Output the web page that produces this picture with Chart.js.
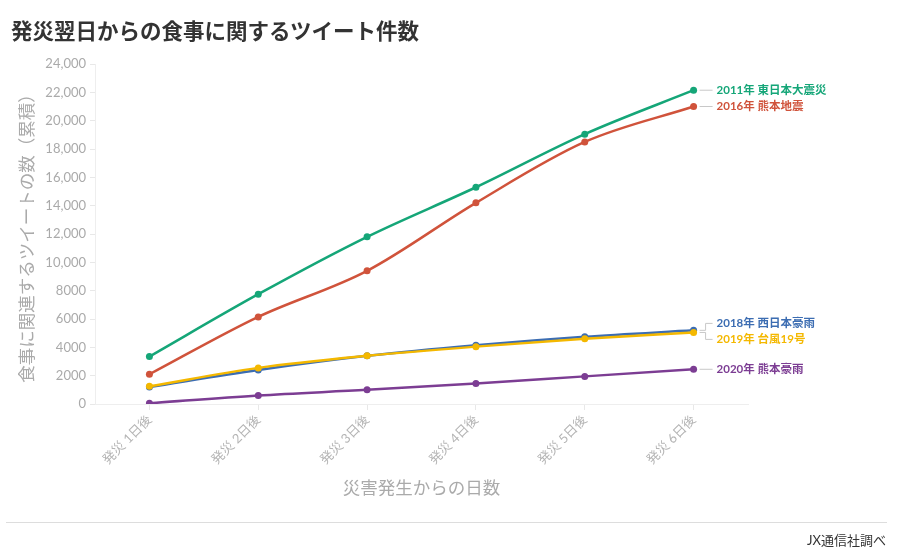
<!DOCTYPE html>
<html lang="ja">
<head>
<meta charset="utf-8">
<title>発災翌日からの食事に関するツイート件数</title>
<script src="https://cdn.jsdelivr.net/npm/chart.js@4.4.1/dist/chart.umd.min.js"></script>
<style>
  html, body { margin: 0; padding: 0; background: #fff; }
  body { width: 897px; height: 550px; position: relative; overflow: hidden;
         font-family: Lato, "Noto Sans CJK JP", sans-serif; }
  #title { position: absolute; left: 11px; top: 14px; font-size: 21.5px; font-weight: bold; color: #333; }
  #rule { position: absolute; left: 6px; right: 10px; top: 522px; border-top: 1px solid #ddd; }
  #source { position: absolute; right: 11px; top: 530px; font-size: 13px; color: #333; }
  canvas { position: absolute; left: 0; top: 0; }
</style>
</head>
<body>
<canvas id="chart" width="897" height="550"></canvas>
<div id="title">発災翌日からの食事に関するツイート件数</div>
<div id="rule"></div>
<div id="source">JX通信社調べ</div>
<script>
const days = ['発災 1日後', '発災 2日後', '発災 3日後', '発災 4日後', '発災 5日後', '発災 6日後'];
const yTicks = [0, 2000, 4000, 6000, 8000, 10000, 12000, 14000, 16000, 18000, 20000, 22000, 24000];

const seriesNames = ['2011年 東日本大震災', '2016年 熊本地震', '2018年 西日本豪雨', '2019年 台風19号', '2020年 熊本豪雨'];
const tohoku2011 = [3350, 7750, 11800, 15300, 19050, 22150];
const kumamoto2016 = [2100, 6150, 9400, 14200, 18500, 21000];
const westJapan2018 = [1200, 2400, 3400, 4150, 4750, 5200];
const typhoon2019 = [1250, 2550, 3400, 4050, 4600, 5050];
const kumamotoRain2020 = [50, 600, 1000, 1450, 1950, 2450];

const colors = ['#15a678', '#d0533b', '#3c6db2', '#f4b800', '#7c3d93'];
const values = [tohoku2011, kumamoto2016, westJapan2018, typhoon2019, kumamotoRain2020];
const drawOrder = [1, 1, 2, 0, 1];

const fontFamily = 'Lato, "Noto Sans CJK JP", sans-serif';

// labels at the end of each line, with leader lines
const endLabels = {
    id: 'endLabels',
    afterDatasetsDraw(chart) {
        const ctx = chart.ctx;
        const items = chart.data.datasets.map((ds, i) => {
            const pts = chart.getDatasetMeta(i).data;
            const p = pts[pts.length - 1];
            return { text: ds.label, color: ds.borderColor, x: p.x, py: p.y, y: p.y };
        }).sort((a, b) => a.py - b.py);

        // push apart labels that are too close
        const gap = 16;
        for (let i = 1; i < items.length; i++) {
            const a = items[i - 1], b = items[i];
            if (b.y - a.y < gap) {
                const mid = (a.py + b.py) / 2;
                a.y = mid - gap / 2;
                b.y = mid + gap / 2;
                a.moved = b.moved = true;
            }
        }

        ctx.save();
        ctx.font = 'bold 11.5px ' + fontFamily;
        ctx.textBaseline = 'middle';
        ctx.lineWidth = 1;
        ctx.strokeStyle = '#c8c8c8';
        items.forEach(it => {
            const x0 = it.x + 6;
            ctx.beginPath();
            if (it.moved) {
                ctx.moveTo(x0, it.py);
                ctx.lineTo(x0 + 6, it.py);
                ctx.moveTo(x0 + 6, it.py);
                ctx.lineTo(x0 + 6, it.y);
                ctx.lineTo(x0 + 13, it.y);
            } else {
                ctx.moveTo(x0, it.y);
                ctx.lineTo(x0 + 13, it.y);
            }
            ctx.stroke();
            ctx.fillStyle = it.color;
            ctx.fillText(it.text, x0 + 17, it.y);
        });
        ctx.restore();
    }
};

new Chart(document.getElementById('chart'), {
    type: 'line',
    data: {
        labels: days,
        datasets: seriesNames.map((name, i) => ({
            label: name,
            data: values[i],
            borderColor: colors[i],
            backgroundColor: colors[i],
            pointBackgroundColor: colors[i],
            pointBorderWidth: 0,
            pointRadius: 3.5,
            borderWidth: 2.5,
            cubicInterpolationMode: 'monotone',
            order: drawOrder[i]
        }))
    },
    options: {
        responsive: false,
        animation: false,
        layout: { padding: { left: 10, right: 149, top: 64, bottom: 40 } },
        plugins: {
            legend: { display: false },
            tooltip: { enabled: false }
        },
        scales: {
            x: {
                offset: true,
                afterFit: s => { s.height = 106; },
                grid: { drawOnChartArea: false, drawTicks: true, tickLength: 6, color: '#e8e8e8' },
                border: { color: '#eeeeee' },
                ticks: {
                    color: '#b4b4b4',
                    minRotation: 45,
                    maxRotation: 45,
                    padding: 2,
                    font: { family: fontFamily, size: 13 }
                },
                title: {
                    display: true,
                    text: '災害発生からの日数',
                    color: '#aaaaaa',
                    padding: { top: 0, bottom: 11 },
                    font: { family: fontFamily, size: 17.5 }
                }
            },
            y: {
                min: 0,
                max: 24000,
                afterFit: s => { s.width = 85; },
                afterBuildTicks: s => { s.ticks = yTicks.map(v => ({ value: v })); },
                grid: { drawOnChartArea: false, drawTicks: true, tickLength: 5, color: '#e8e8e8' },
                border: { color: '#eeeeee' },
                ticks: {
                    color: '#aaaaaa',
                    padding: 4,
                    font: { family: fontFamily, size: 13 },
                    callback: v => v >= 10000 ? v.toLocaleString('en-US') : String(v)
                },
                title: {
                    display: true,
                    text: '食事に関連するツイートの数（累積）',
                    color: '#aaaaaa',
                    padding: { top: 7, bottom: 0 },
                    font: { family: fontFamily, size: 17.5 }
                }
            }
        }
    },
    plugins: [endLabels]
});
</script>
</body>
</html>
